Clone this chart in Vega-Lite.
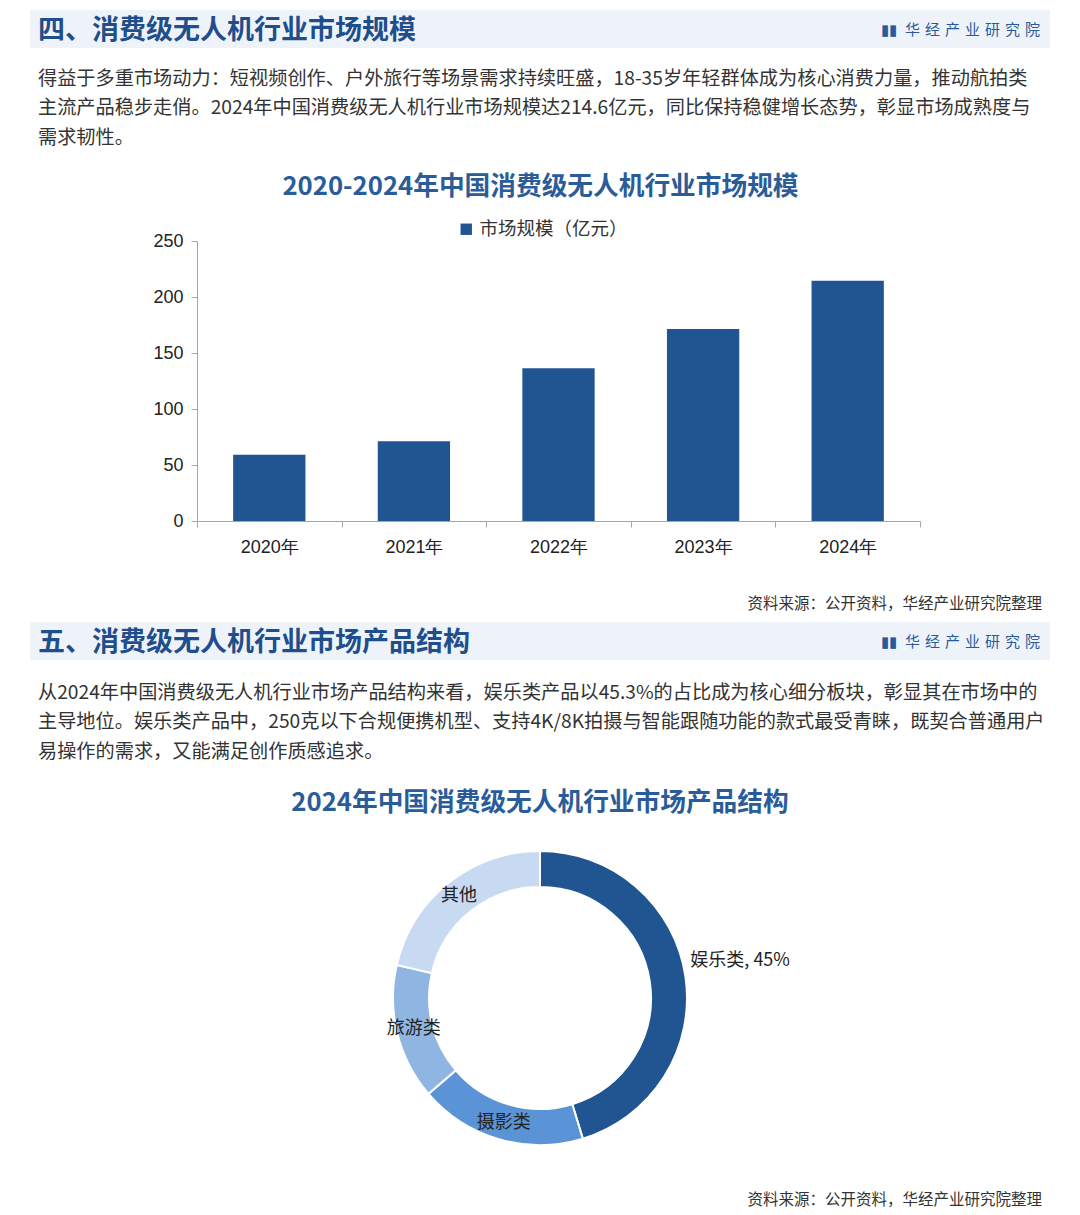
{
  "$schema": "https://vega.github.io/schema/vega-lite/v6.json",
  "padding": {"left": 30, "top": 10, "right": 30, "bottom": 0},
  "background": "white",
  "spacing": 0,
  "resolve": {"scale": {"color": "independent"}, "legend": {"color": "independent"}},
  "config": {
    "view": {"stroke": null},
    "font": "Noto Sans CJK SC",
    "title": {"font": "Noto Sans CJK SC"},
    "concat": {"spacing": 0}
  },
  "vconcat": [
    {
      "spacing": 0,
      "hconcat": [
        {
          "width": 850, "height": 38,
          "view": {"fill": "#EEF3FA", "stroke": null},
          "data": {"values": [{}]},
          "mark": {"type": "text", "text": ""},
          "title": {"text": "四、消费级无人机行业市场规模", "anchor": "start", "frame": "group", "dx": 8, "offset": -35, "fontSize": 27, "fontWeight": "bold", "color": "#1F4E8C"}
        },
        {
          "width": 170, "height": 38,
          "view": {"fill": "#EEF3FA", "stroke": null},
          "data": {"values": [{}]},
          "mark": {"type": "text", "text": ""},
          "title": {"text": "▮▮\u2002华\u2004经\u2004产\u2004业\u2004研\u2004究\u2004院", "anchor": "end", "frame": "group", "dx": -10, "offset": -28, "fontSize": 15, "fontWeight": "normal", "color": "#2B5A98"}
        }
      ]
    },
    {
      "width": 1020, "height": 126,
      "data": {"values": [{}]},
      "mark": {"type": "text", "text": ""},
      "title": {
        "text": [
          "得益于多重市场动力：短视频创作、户外旅行等场景需求持续旺盛，18-35岁年轻群体成为核心消费力量，推动航拍类",
          "主流产品稳步走俏。2024年中国消费级无人机行业市场规模达214.6亿元，同比保持稳健增长态势，彰显市场成熟度与",
          "需求韧性。"
        ],
        "anchor": "start", "frame": "group", "dx": 8, "offset": -100, "fontSize": 19.2, "fontWeight": "normal", "color": "#333333", "lineHeight": 29.5
      }
    },
    {
      "spacing": 0,
      "hconcat": [
        {
          "width": 122, "height": 280,
          "data": {"values": [{}]},
          "mark": {"type": "text", "text": ""}
        },
        {
          "width": 723, "height": 280,
          "data": {"values": [
            {"year": "2020年", "value": 59.2},
            {"year": "2021年", "value": 71.3},
            {"year": "2022年", "value": 136.3},
            {"year": "2023年", "value": 171.4},
            {"year": "2024年", "value": 214.6}
          ]},
          "mark": {"type": "bar", "width": {"band": 0.5}},
          "encoding": {
            "x": {
              "field": "year", "type": "ordinal",
              "scale": {"paddingInner": 0, "paddingOuter": 0},
              "axis": {"title": null, "labelAngle": 0, "labelFontSize": 18, "labelFont": "Liberation Sans", "labelColor": "#222222", "domainColor": "#A6A6A6", "tickColor": "#A6A6A6", "tickSize": 6, "tickBand": "extent", "labelPadding": 11}
            },
            "y": {
              "field": "value", "type": "quantitative",
              "scale": {"domain": [0, 250]},
              "axis": {"title": null, "values": [0, 50, 100, 150, 200, 250], "grid": false, "labelFontSize": 18, "labelFont": "Liberation Sans", "labelColor": "#222222", "domainColor": "#A6A6A6", "tickColor": "#A6A6A6", "tickSize": 6, "labelPadding": 8}
            },
            "color": {
              "datum": "市场规模（亿元）", "type": "nominal",
              "scale": {"range": ["#215592"]},
              "legend": {"orient": "none", "legendX": 427, "legendY": -21, "title": null, "symbolType": "square", "symbolSize": 130, "symbolStrokeWidth": 0, "labelFontSize": 18.5, "labelColor": "#333333", "labelFont": "Noto Sans CJK SC"}
            }
          },
          "title": {"text": "2020-2024年中国消费级无人机行业市场规模", "anchor": "middle", "frame": "group", "dx": -18, "offset": 31, "fontSize": 25.7, "fontWeight": "bold", "color": "#2A5C9A"}
        }
      ]
    },
    {
      "width": 1020, "height": 66,
      "data": {"values": [{}]},
      "mark": {"type": "text", "text": ""},
      "title": {"text": "资料来源：公开资料，华经产业研究院整理", "anchor": "end", "frame": "group", "dx": -8, "offset": -56, "fontSize": 15.5, "fontWeight": "normal", "color": "#333333"}
    },
    {
      "spacing": 0,
      "hconcat": [
        {
          "width": 850, "height": 38,
          "view": {"fill": "#EEF3FA", "stroke": null},
          "data": {"values": [{}]},
          "mark": {"type": "text", "text": ""},
          "title": {"text": "五、消费级无人机行业市场产品结构", "anchor": "start", "frame": "group", "dx": 8, "offset": -35, "fontSize": 27, "fontWeight": "bold", "color": "#1F4E8C"}
        },
        {
          "width": 170, "height": 38,
          "view": {"fill": "#EEF3FA", "stroke": null},
          "data": {"values": [{}]},
          "mark": {"type": "text", "text": ""},
          "title": {"text": "▮▮\u2002华\u2004经\u2004产\u2004业\u2004研\u2004究\u2004院", "anchor": "end", "frame": "group", "dx": -10, "offset": -28, "fontSize": 15, "fontWeight": "normal", "color": "#2B5A98"}
        }
      ]
    },
    {
      "width": 1020, "height": 130,
      "data": {"values": [{}]},
      "mark": {"type": "text", "text": ""},
      "title": {
        "text": [
          "从2024年中国消费级无人机行业市场产品结构来看，娱乐类产品以45.3%的占比成为核心细分板块，彰显其在市场中的",
          "主导地位。娱乐类产品中，250克以下合规便携机型、支持4K/8K拍摄与智能跟随功能的款式最受青睐，既契合普通用户",
          "易操作的需求，又能满足创作质感追求。"
        ],
        "anchor": "start", "frame": "group", "dx": 8, "offset": -102, "fontSize": 19.2, "fontWeight": "normal", "color": "#333333", "lineHeight": 29.5
      }
    },
    {
      "width": 1020, "height": 334,
      "data": {"values": [
        {"type": "娱乐类", "share": 45.3, "order": 1, "inner": "", "outer": "娱乐类, 45%"},
        {"type": "摄影类", "share": 18.4, "order": 2, "inner": "摄影类", "outer": ""},
        {"type": "旅游类", "share": 14.9, "order": 3, "inner": "旅游类", "outer": ""},
        {"type": "其他", "share": 21.4, "order": 4, "inner": "其他", "outer": ""}
      ]},
      "encoding": {
        "theta": {"field": "share", "type": "quantitative", "stack": true},
        "order": {"field": "order", "type": "quantitative"}
      },
      "layer": [
        {
          "mark": {"type": "arc", "outerRadius": 147, "innerRadius": 111, "stroke": "white", "strokeWidth": 2},
          "encoding": {
            "color": {
              "field": "type", "type": "nominal",
              "scale": {"domain": ["娱乐类", "摄影类", "旅游类", "其他"], "range": ["#215592", "#5B94D6", "#8FB5E3", "#C8DAF1"]},
              "legend": null
            }
          }
        },
        {
          "mark": {"type": "text", "radius": 130, "fontSize": 18, "color": "#222222", "align": "center", "baseline": "middle"},
          "encoding": {"text": {"field": "inner"}}
        },
        {
          "mark": {"type": "text", "radius": 152, "fontSize": 18, "color": "#222222", "align": "left", "baseline": "middle", "dy": -15},
          "encoding": {"text": {"field": "outer"}}
        }
      ],
      "title": {"text": "2024年中国消费级无人机行业市场产品结构", "anchor": "middle", "frame": "group", "offset": 14, "fontSize": 25.7, "fontWeight": "bold", "color": "#2A5C9A"}
    },
    {
      "width": 1020, "height": 51,
      "data": {"values": [{}]},
      "mark": {"type": "text", "text": ""},
      "title": {"text": "资料来源：公开资料，华经产业研究院整理", "anchor": "end", "frame": "group", "dx": -8, "offset": -43, "fontSize": 15.5, "fontWeight": "normal", "color": "#333333"}
    }
  ]
}
